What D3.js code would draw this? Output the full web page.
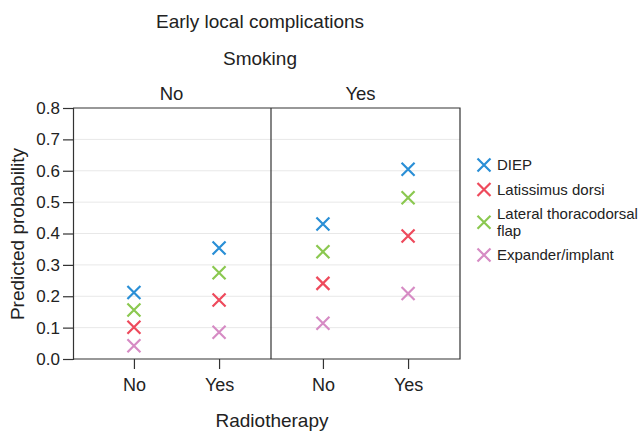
<!DOCTYPE html>
<html>
<head>
<meta charset="utf-8">
<script src="https://cdn.jsdelivr.net/npm/d3@7"></script>
<style>
  body { margin: 0; background: #fff; }
  svg text { font-family: "Liberation Sans", Arial, sans-serif; fill: #222; }
</style>
</head>
<body>
<svg id="chart"></svg>
<script>
// data: order of values in each series = smoking No (rt No, rt Yes), smoking Yes (rt No, rt Yes)
const smoking = ['No', 'Yes'];
const radiotherapy = ['No', 'Yes'];
const methods = ['DIEP', 'Latissimus dorsi', 'Lateral thoracodorsal flap', 'Expander/implant'];
const legendLines = [['DIEP'], ['Latissimus dorsi'], ['Lateral thoracodorsal', 'flap'], ['Expander/implant']];
const diep = [0.212, 0.354, 0.430, 0.605];
const latissimus = [0.101, 0.188, 0.241, 0.392];
const thoracodorsal = [0.156, 0.275, 0.342, 0.514];
const expander = [0.042, 0.085, 0.114, 0.209];
const yTicks = [0, 0.1, 0.2, 0.3, 0.4, 0.5, 0.6, 0.7, 0.8];

const seriesValues = [diep, latissimus, thoracodorsal, expander];
const colors = ['#2a8fd6', '#ee4a5c', '#8bc850', '#d68bc4'];

const width = 643, height = 432;
const margin = {top: 108, right: 183, bottom: 73, left: 73};
const plotBottom = height - margin.bottom; // 359
const plotRight = width - margin.right;    // 460

const svg = d3.select('#chart')
    .attr('width', width)
    .attr('height', height);

const yScale = d3.scaleLinear()
    .domain([0, 0.8])
    .range([plotBottom, margin.top]);

// panels (smoking) and x positions within each panel (radiotherapy)
const panelScale = d3.scaleBand()
    .domain(smoking)
    .range([82, plotRight]);

const xScale = d3.scalePoint()
    .domain(radiotherapy)
    .range([0, panelScale.bandwidth()])
    .padding(0.61);

const points = [];
smoking.forEach((s, i) => {
  radiotherapy.forEach((r, j) => {
    seriesValues.forEach((vals, k) => {
      points.push({smoke: s, rt: r, method: k, value: vals[i * 2 + j]});
    });
  });
});

// grid
svg.append('g')
  .selectAll('line')
  .data(yTicks.slice(1, -1))
  .enter().append('line')
    .attr('x1', margin.left + 1)
    .attr('x2', plotRight)
    .attr('y1', d => yScale(d))
    .attr('y2', d => yScale(d))
    .attr('stroke', '#e8e8e8')
    .attr('stroke-width', 1);

// frame
const frame = svg.append('g')
    .attr('stroke', '#333')
    .attr('stroke-width', 1.2)
    .attr('fill', 'none');
frame.append('path')
    .attr('d', 'M' + margin.left + ',' + margin.top + 'H' + plotRight + 'V' + plotBottom + 'H' + margin.left);
frame.append('line')
    .attr('x1', panelScale('Yes')).attr('x2', panelScale('Yes'))
    .attr('y1', margin.top).attr('y2', plotBottom);

// y axis
const yAxis = svg.append('g')
    .attr('transform', 'translate(' + margin.left + ',0)')
    .call(d3.axisLeft(yScale).tickValues(yTicks).tickFormat(d3.format('.1f')).tickSize(10).tickPadding(3));
yAxis.select('.domain').attr('stroke', '#333').attr('stroke-width', 1.2);
yAxis.selectAll('.tick line').attr('stroke', '#333').attr('stroke-width', 1.2);
yAxis.selectAll('.tick text')
    .attr('font-size', 17)
    .attr('font-family', '"Liberation Sans", Arial, sans-serif')
    .attr('fill', '#222');

// x axes, one per panel
smoking.forEach(s => {
  const g = svg.append('g')
      .attr('transform', 'translate(' + panelScale(s) + ',' + plotBottom + ')')
      .call(d3.axisBottom(xScale).tickSize(10).tickPadding(9));
  g.select('.domain').remove();
  g.selectAll('.tick line').attr('stroke', '#333').attr('stroke-width', 1.2);
  g.selectAll('.tick text')
      .attr('font-size', 18)
      .attr('font-family', '"Liberation Sans", Arial, sans-serif')
      .attr('fill', '#222');

  svg.append('text')
      .attr('x', panelScale(s) + panelScale.bandwidth() / 2 - 5)
      .attr('y', 100)
      .attr('text-anchor', 'middle')
      .attr('font-size', 18.5)
      .text(s);
});

// markers
const cross = 'M-6.5,-6.5L6.5,6.5M-6.5,6.5L6.5,-6.5';
svg.append('g')
  .selectAll('path')
  .data(points)
  .enter().append('path')
    .attr('transform', d => 'translate(' + (panelScale(d.smoke) + xScale(d.rt)) + ',' + yScale(d.value) + ')')
    .attr('d', cross)
    .attr('fill', 'none')
    .attr('stroke', d => colors[d.method])
    .attr('stroke-width', 2.2);

// titles
svg.append('text')
    .attr('x', 260).attr('y', 28)
    .attr('text-anchor', 'middle')
    .attr('font-size', 19)
    .text('Early local complications');
svg.append('text')
    .attr('x', 260).attr('y', 65)
    .attr('text-anchor', 'middle')
    .attr('font-size', 19)
    .text('Smoking');
svg.append('text')
    .attr('x', 272).attr('y', 427)
    .attr('text-anchor', 'middle')
    .attr('font-size', 19)
    .text('Radiotherapy');
svg.append('text')
    .attr('transform', 'translate(24,234) rotate(-90)')
    .attr('text-anchor', 'middle')
    .attr('font-size', 19)
    .text('Predicted probability');

// legend
const lineH = 16.5, itemGap = 8;
let yPos = 165 - (lineH + itemGap) / 2;
const legend = svg.append('g');
methods.forEach((m, i) => {
  const lines = legendLines[i];
  const h = lines.length * lineH + itemGap;
  const cy = yPos + h / 2;
  const item = legend.append('g').attr('transform', 'translate(0,' + cy + ')');
  item.append('path')
      .attr('transform', 'translate(484,0)')
      .attr('d', cross)
      .attr('fill', 'none')
      .attr('stroke', colors[i])
      .attr('stroke-width', 2.2);
  lines.forEach((t, j) => {
    item.append('text')
        .attr('x', 497)
        .attr('y', (j - (lines.length - 1) / 2) * lineH)
        .attr('dy', '0.35em')
        .attr('font-size', 15)
        .text(t);
  });
  yPos += h;
});
</script>
</body>
</html>
